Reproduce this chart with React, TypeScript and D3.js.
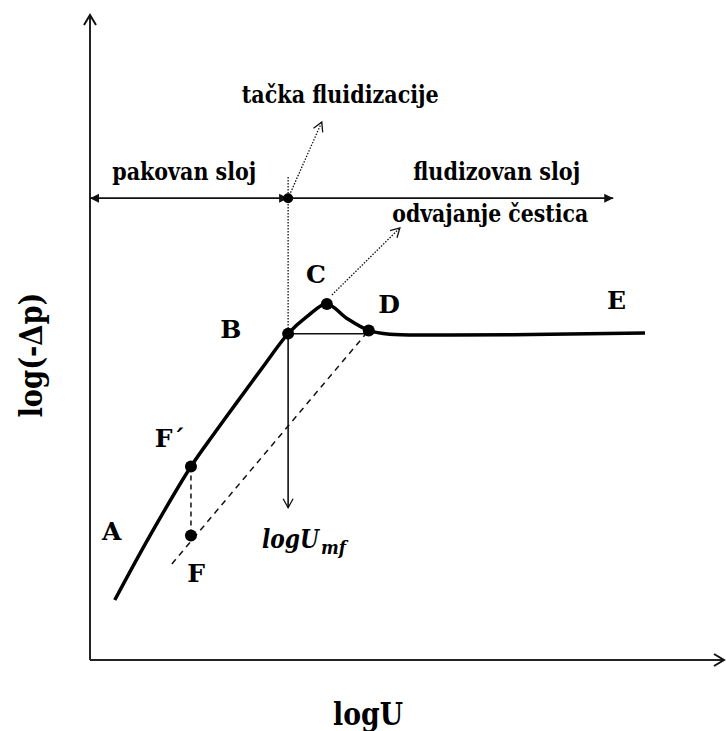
import React from "react";
import * as d3 from "d3";

// main curve A -> B -> C -> D -> E (logU, log(-dp)) in arbitrary log units
const curveU = [0.39, 0.94, 1.59, 1.97, 2.31, 2.72, 3.12, 3.41, 3.73, 4.04, 4.39, 4.72, 5.67, 7.24, 8.74];
const curveV = [0.93, 1.92, 3.0, 3.53, 3.99, 4.54, 5.06, 5.32, 5.52, 5.3, 5.11, 5.05, 5.04, 5.05, 5.07];

// marked points
const pointNames = ["F´", "F", "B", "C", "D"];
const pointU = [1.59, 1.59, 3.12, 3.73, 4.39];
const pointV = [3.0, 1.93, 5.06, 5.52, 5.11];

// letter labels
const labelNames = ["A", "F´", "F", "B", "C", "D", "E"];
const labelU = [0.19, 1.02, 1.53, 2.05, 3.4, 4.54, 8.14];
const labelV = [1.86, 3.3, 1.21, 4.99, 5.84, 5.38, 5.44];

// regime annotations
const regimeNames = ["pakovan sloj", "fludizovan sloj", "odvajanje čestica", "tačka fluidizacije"];
const regimeU = [0.35, 5.09, 4.76, 2.39];
const regimeV = [7.44, 7.44, 6.79, 8.64];
const regimeWidth = [144, 167, 196, 197];

const umf = 3.12; // logU_mf
const regimeLevel = 7.16;
const regimeEnd = 8.24;
const dottedTop = 7.49;
const umfArrowEnd = 2.36;
const dashedStart = [1.29, 1.49];
const fluidArrow = [3.65, 8.34];
const detachArrow = [[3.81, 5.66], [4.88, 6.7]];
const umfLabel = [2.71, 1.74];

const W = 726;
const H = 731;

const x = d3.scaleLinear().domain([0, 10]).range([90, 725]);
const y = d3.scaleLinear().domain([0, 10]).range([660, 15]);

const serif = { fontFamily: "DejaVu Serif" };

export default function App() {
  const pts = curveU.map((u, i) => [u, curveV[i]] as [number, number]);
  const line = d3
    .line<[number, number]>()
    .x((d) => x(d[0]))
    .y((d) => y(d[1]))
    .curve(d3.curveCatmullRom.alpha(0.5));

  const B = [umf, pointV[2]];
  const D = [pointU[4], pointV[4]];

  return (
    <svg width={W} height={H} style={{ position: "absolute", left: 0, top: 0, background: "#fff" }}>
      <defs>
        <marker id="open" viewBox="-13 -8 15 16" refX="0" refY="0" markerWidth="15" markerHeight="16"
          markerUnits="userSpaceOnUse" orient="auto">
          <path d="M-10,-6 L0,0 L-10,6" fill="none" stroke="#111" strokeWidth="2" />
        </marker>
        <marker id="openSmall" viewBox="-11 -7 13 14" refX="0" refY="0" markerWidth="13" markerHeight="14"
          markerUnits="userSpaceOnUse" orient="auto">
          <path d="M-9,-5 L0,0 L-9,5" fill="none" stroke="#111" strokeWidth="1.3" />
        </marker>
        <marker id="solid" viewBox="-10 -5 11 10" refX="0" refY="0" markerWidth="11" markerHeight="10"
          markerUnits="userSpaceOnUse" orient="auto-start-reverse">
          <path d="M-9,-4.5 L0,0 L-9,4.5 Z" fill="#111" />
        </marker>
      </defs>

      {/* axes */}
      <line x1={x(0)} y1={y(0)} x2={x(0)} y2={y(10)} stroke="#222" strokeWidth={2} markerEnd="url(#open)" />
      <line x1={x(0)} y1={y(0)} x2={x(10) - 1} y2={y(0)} stroke="#222" strokeWidth={2} markerEnd="url(#open)" />

      {/* regime arrows */}
      <line x1={x(0)} y1={y(regimeLevel)} x2={x(umf)} y2={y(regimeLevel)} stroke="#111" strokeWidth={1.8}
        markerStart="url(#solid)" markerEnd="url(#solid)" />
      <line x1={x(umf)} y1={y(regimeLevel)} x2={x(regimeEnd)} y2={y(regimeLevel)} stroke="#111" strokeWidth={1.8}
        markerEnd="url(#solid)" />

      {/* dotted helpers */}
      <line x1={x(umf)} y1={y(dottedTop)} x2={x(umf)} y2={y(B[1])} stroke="#111" strokeWidth={1.3} strokeDasharray="1.5,1.5" />
      <line x1={x(umf)} y1={y(regimeLevel)} x2={x(fluidArrow[0])} y2={y(fluidArrow[1])} stroke="#111" strokeWidth={1.3}
        strokeDasharray="1.5,1.5" markerEnd="url(#openSmall)" />
      <line x1={x(detachArrow[0][0])} y1={y(detachArrow[0][1])} x2={x(detachArrow[1][0])} y2={y(detachArrow[1][1])}
        stroke="#111" strokeWidth={1.3} strokeDasharray="1.5,1.5" markerEnd="url(#openSmall)" />

      {/* dashed lines */}
      <line x1={x(dashedStart[0])} y1={y(dashedStart[1])} x2={x(D[0])} y2={y(D[1])} stroke="#111" strokeWidth={1.5}
        strokeDasharray="6,5" />
      <line x1={x(pointU[0])} y1={y(pointV[0])} x2={x(pointU[1])} y2={y(pointV[1])} stroke="#111" strokeWidth={1.5}
        strokeDasharray="5,4" />

      {/* B - D thin line and logU_mf arrow */}
      <line x1={x(B[0])} y1={y(B[1])} x2={x(D[0])} y2={y(B[1])} stroke="#111" strokeWidth={1.5} />
      <line x1={x(umf)} y1={y(B[1])} x2={x(umf)} y2={y(umfArrowEnd)} stroke="#111" strokeWidth={1.6}
        markerEnd="url(#openSmall)" />

      {/* main curve */}
      <path d={line(pts) || ""} fill="none" stroke="#000" strokeWidth={3.5} strokeLinejoin="round" />

      {/* points */}
      {pointNames.map((n, i) => (
        <circle key={n} cx={x(pointU[i])} cy={y(pointV[i])} r={6} fill="#000" />
      ))}
      <circle cx={x(umf)} cy={y(regimeLevel)} r={5} fill="#000" />

      {/* labels */}
      {labelNames.map((n, i) => (
        <text key={n} x={x(labelU[i])} y={y(labelV[i])} fontSize={25} fontWeight="bold" fill="#000" style={serif}>
          {n}
        </text>
      ))}
      {regimeNames.map((n, i) => (
        <text key={n} x={x(regimeU[i])} y={y(regimeV[i])} fontSize={25} fontWeight="bold" fill="#000" style={serif}
          textLength={regimeWidth[i]} lengthAdjust="spacingAndGlyphs">
          {n}
        </text>
      ))}
      <text x={x(umfLabel[0])} y={y(umfLabel[1])} fontWeight="bold" fontStyle="italic" fill="#000" style={serif}>
        <tspan fontSize={26} textLength={57} lengthAdjust="spacingAndGlyphs">logU</tspan>
        <tspan fontSize={18} dx={2} dy={6} textLength={25} lengthAdjust="spacingAndGlyphs">mf</tspan>
      </text>

      {/* axis titles */}
      <text x={368} y={725} textAnchor="middle" fontSize={31} fontWeight="bold" fill="#000" style={serif}
        textLength={70} lengthAdjust="spacingAndGlyphs">
        logU
      </text>
      <text transform="translate(42,355) rotate(-90)" textAnchor="middle" fontSize={31} fontWeight="bold" fill="#000"
        style={serif} textLength={125} lengthAdjust="spacingAndGlyphs">
        log(-Δp)
      </text>
    </svg>
  );
}
